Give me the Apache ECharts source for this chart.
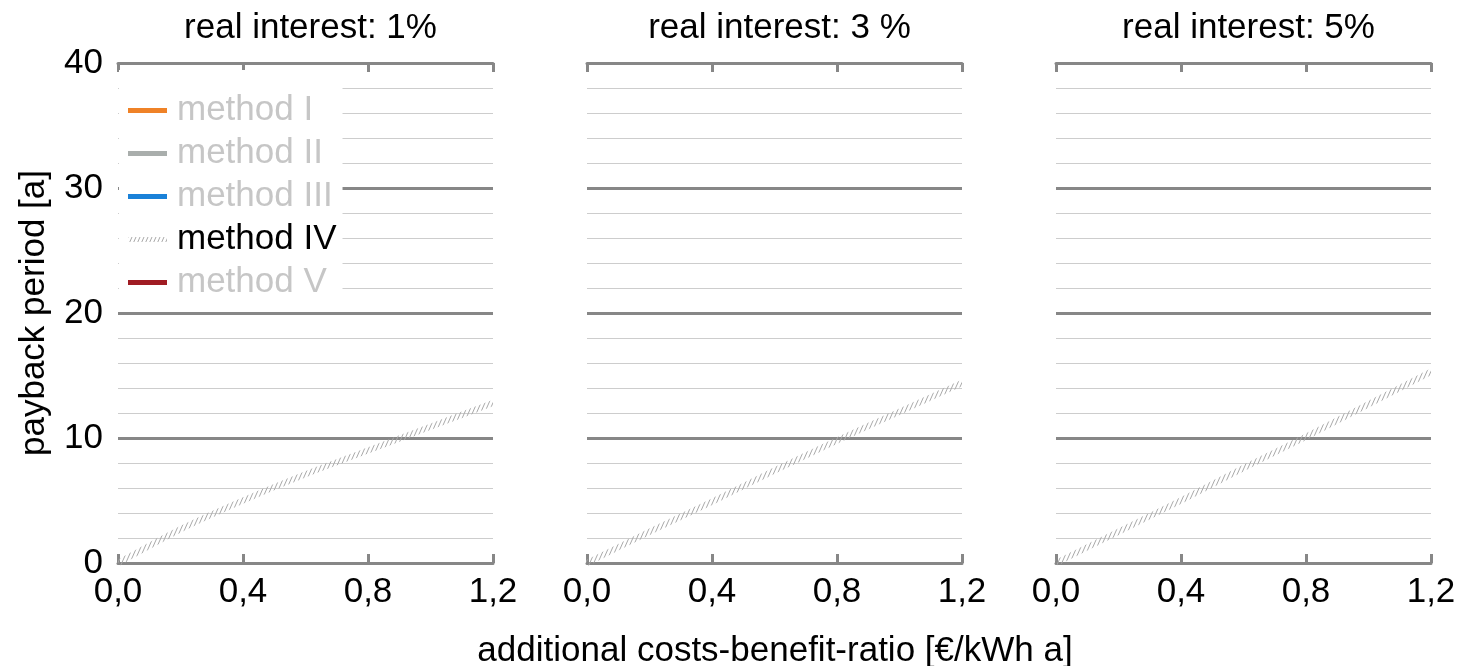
<!DOCTYPE html>
<html>
<head>
<meta charset="utf-8">
<script src="https://cdn.jsdelivr.net/npm/echarts@6/dist/echarts.min.js"></script>
<style>
  html, body { margin: 0; padding: 0; background: #ffffff; }
  #chart { width: 1460px; height: 666px; }
</style>
</head>
<body>
<div id="chart"></div>
<script>
// x values: additional costs-benefit-ratio [€/kWh a]
const ratio = [0, 0.2, 0.4, 0.6, 0.8, 1.0, 1.2];

// payback period [a] of method IV for each real interest rate
const methodIV_1pct = [0, 2.7, 5.0, 7.1, 9.0, 10.9, 12.8];
const methodIV_3pct = [0, 2.5, 4.9, 7.4, 9.8, 12.1, 14.4];
const methodIV_5pct = [0, 2.5, 5.0, 7.6, 10.1, 12.7, 15.3];

const panelTitles = ['real interest: 1%', 'real interest: 3 %', 'real interest: 5%'];
const panelSeries = [methodIV_1pct, methodIV_3pct, methodIV_5pct];

const methodNames = ['method I', 'method II', 'method III', 'method IV', 'method V'];
const activeMethod = 'method IV';

// axis tick values
const xTicks = [0, 0.4, 0.8, 1.2];
const yTicks = [0, 10, 20, 30, 40];

const FONT = '"Liberation Sans", Arial, sans-serif';
const AXIS_GREY = '#878787';
const MINOR_GREY = '#cdcdcd';

// steep hatched stroke used for method IV
function makeHatch() {
  const c = document.createElement('canvas');
  c.width = 4; c.height = 9;
  const g = c.getContext('2d');
  g.strokeStyle = '#a9a9a9';
  g.lineWidth = 1;
  g.beginPath();
  g.moveTo(0, 9); g.lineTo(4, 0);
  g.moveTo(-4, 9); g.lineTo(0, 0);
  g.moveTo(4, 9); g.lineTo(8, 0);
  g.stroke();
  return c;
}
const hatch = { image: makeHatch(), repeat: 'repeat' };

const methodColors = {
  'method I': '#ef8227',
  'method II': '#a9aeac',
  'method III': '#1a81d8',
  'method IV': hatch,
  'method V': '#a01c23'
};

const gridLefts = [118, 587, 1056];
const gridWidth = 375;

const grids = gridLefts.map(l => ({ left: l, width: gridWidth, top: 63, height: 500 }));

const fmtX = v => v.toFixed(1).replace('.', ',');

const xAxes = [];
const yAxes = [];
gridLefts.forEach((l, i) => {
  // bottom axis with labels
  xAxes.push({
    type: 'value', gridIndex: i, position: 'bottom',
    min: xTicks[0], max: xTicks[xTicks.length - 1], interval: xTicks[1] - xTicks[0],
    axisLine: { show: true, onZero: false, lineStyle: { color: AXIS_GREY, width: 3 } },
    axisTick: { show: true, inside: true, length: 9, lineStyle: { color: AXIS_GREY, width: 3 } },
    axisLabel: { show: true, margin: 12, color: '#000', fontSize: 35, fontFamily: FONT, formatter: fmtX },
    splitLine: { show: false }
  });
  // top frame axis
  xAxes.push({
    type: 'value', gridIndex: i, position: 'top',
    min: xTicks[0], max: xTicks[xTicks.length - 1], interval: xTicks[1] - xTicks[0],
    axisLine: { show: true, onZero: false, lineStyle: { color: AXIS_GREY, width: 3 } },
    axisTick: { show: true, inside: true, length: 9, lineStyle: { color: AXIS_GREY, width: 3 } },
    axisLabel: { show: false },
    splitLine: { show: false }
  });
  yAxes.push({
    type: 'value', gridIndex: i,
    min: yTicks[0], max: yTicks[yTicks.length - 1], interval: yTicks[1] - yTicks[0],
    axisLine: { show: false },
    axisTick: { show: false },
    axisLabel: { show: i === 0, margin: 15, color: '#000', fontSize: 35, fontFamily: FONT },
    splitLine: { show: true, lineStyle: { color: AXIS_GREY, width: 3 } },
    minorTick: { show: false, splitNumber: 5 },
    minorSplitLine: { show: true, lineStyle: { color: MINOR_GREY, width: 1 } }
  });
});

const series = [];
// methods without data in these panels
methodNames.forEach(name => {
  if (name === activeMethod) return;
  series.push({
    name: name, type: 'line', xAxisIndex: 0, yAxisIndex: 0,
    data: [], showSymbol: false,
    itemStyle: { color: methodColors[name] },
    lineStyle: { color: methodColors[name], width: 5 }
  });
});
panelSeries.forEach((vals, i) => {
  series.push({
    name: activeMethod, type: 'line', xAxisIndex: i * 2, yAxisIndex: i,
    data: ratio.map((x, k) => [x, vals[k]]),
    showSymbol: false, symbol: 'none', smooth: 0.2,
    itemStyle: { color: hatch },
    lineStyle: { color: hatch, width: 6 },
    silent: true, z: 3
  });
});

const option = {
  animation: false,
  backgroundColor: '#ffffff',
  textStyle: { fontFamily: FONT },
  title: panelTitles.map((t, i) => ({
    text: t,
    left: gridLefts[i] + gridWidth / 2,
    top: 6,
    textAlign: 'center',
    textStyle: { fontSize: 35, fontWeight: 'normal', color: '#000', fontFamily: FONT }
  })),
  legend: {
    orient: 'vertical',
    left: 119, top: 70,
    padding: [23, 6, 6, 9],
    backgroundColor: '#ffffff',
    itemGap: 8,
    itemWidth: 39, itemHeight: 5,
    icon: 'rect',
    selectedMode: false,
    z: 5,
    textStyle: { fontSize: 35, fontFamily: FONT, lineHeight: 35, padding: [0, 0, 0, 5] },
    data: methodNames.map(n => ({
      name: n,
      textStyle: { color: n === activeMethod ? '#000000' : '#c6c6c6' }
    }))
  },
  grid: grids,
  xAxis: xAxes,
  yAxis: yAxes,
  series: series,
  graphic: [
    {
      type: 'text', x: 34, y: 313, rotation: Math.PI / 2,
      style: { text: 'payback period [a]', font: '35px ' + FONT, fill: '#000', align: 'center', verticalAlign: 'middle' }
    },
    {
      type: 'text', x: 775, y: 651,
      style: { text: 'additional costs-benefit-ratio [€/kWh a]', font: '35px ' + FONT, fill: '#000', align: 'center', verticalAlign: 'middle' }
    }
  ]
};

const chart = echarts.init(document.getElementById('chart'), null, { renderer: 'canvas' });
chart.setOption(option);
</script>
</body>
</html>
